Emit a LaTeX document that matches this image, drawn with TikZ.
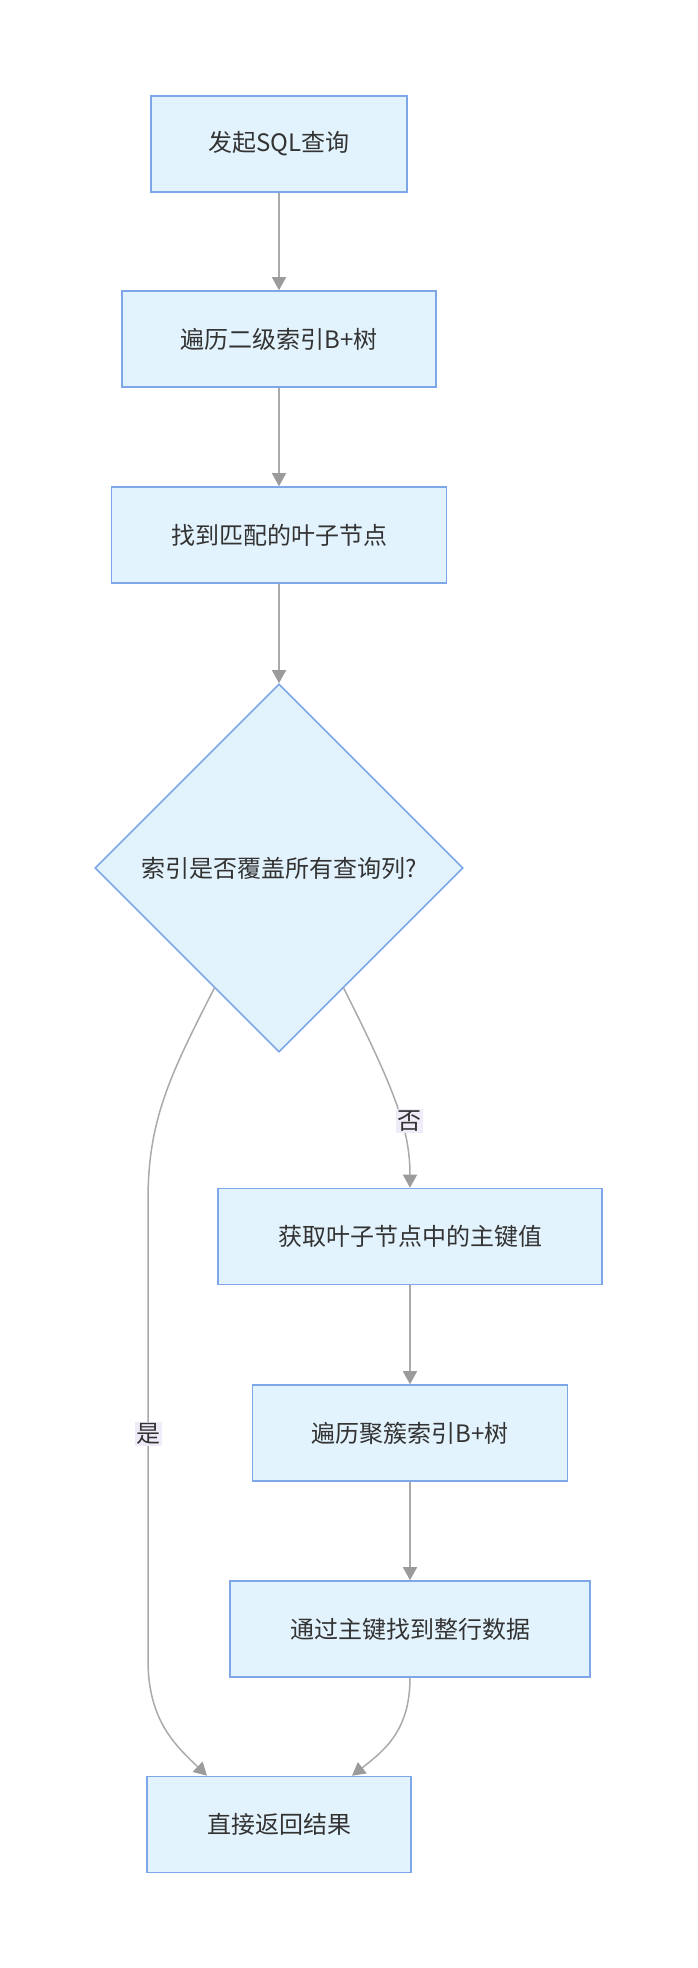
\documentclass[tikz,border=0pt]{standalone}
\usepackage{fontspec}
\setmainfont{Noto Sans CJK SC}
\usepackage{xcolor}
\usepackage{tikz}
\usetikzlibrary{calc,arrows.meta,positioning,shapes.geometric}
\definecolor{boxFill}{RGB}{227,243,253}
\definecolor{boxLine}{RGB}{125,167,232}
\definecolor{edgeGray}{RGB}{170,170,170}
\definecolor{tipGray}{RGB}{155,155,155}
\definecolor{txtDark}{RGB}{51,51,51}
\definecolor{lblFill}{RGB}{240,235,248}

\begin{document}
\begin{tikzpicture}[x=1pt,y=-1pt,
    stepbox/.style={draw=boxLine, fill=boxFill, line width=1.6pt, text=txtDark,
        minimum height=96pt, inner sep=0pt, font=\fontsize{24}{29}\selectfont},
    decide/.style={diamond, aspect=1, draw=boxLine, fill=boxFill, line width=1.6pt,
        text=txtDark, minimum width=368pt, minimum height=368pt, inner sep=0pt,
        font=\fontsize{24}{29}\selectfont},
    flow/.style={draw=edgeGray, line width=1.5pt,
        -{Triangle[width=14pt,length=13pt,color=tipGray,fill=tipGray]}},
    answer/.style={fill=lblFill, text=txtDark, inner sep=1.5pt,
        font=\fontsize{24}{29}\selectfont}]

    \useasboundingbox (0,0) rectangle (698,1968);

    % steps
    \node[stepbox, minimum width=256pt] (sql)  at (279,144)    {发起SQL查询};
    \node[stepbox, minimum width=314pt] (sec)  at (279,339)    {遍历二级索引B+树};
    \node[stepbox, minimum width=335pt] (leaf) at (279,535)    {找到匹配的叶子节点};
    \node[decide]                       (cover) at (279,868)   {索引是否覆盖所有查询列?};
    \node[stepbox, minimum width=384pt] (pk)   at (410,1236.5) {获取叶子节点中的主键值};
    \node[stepbox, minimum width=315pt] (clu)  at (410,1433)   {遍历聚簇索引B+树};
    \node[stepbox, minimum width=360pt] (row)  at (410,1629)   {通过主键找到整行数据};
    \node[stepbox, minimum width=264pt] (ret)  at (279,1824.5) {直接返回结果};

    % free ends on the decision and the last box
    \coordinate (coverL) at ($(cover.south)!0.35!(cover.west)$);
    \coordinate (coverR) at ($(cover.south)!0.35!(cover.east)$);
    \coordinate (retL) at ($(ret.north)+(-72,0)$);
    \coordinate (retR) at ($(ret.north)+(73,0)$);

    % straight connectors
    \draw[flow] (sql) -- (sec);
    \draw[flow] (sec) -- (leaf);
    \draw[flow] (leaf) -- (cover);
    \draw[flow] (pk) -- (clu);
    \draw[flow] (clu) -- (row);

    % branches
    \draw[flow] (coverR) .. controls (395,1090) and (410,1130) .. (pk.north);
    \draw[flow] (coverL) .. controls (170,1075) and (148,1120) .. (148,1200)
        -- (148,1660) .. controls (148,1720) and (175,1745) .. (retL);
    \draw[flow] (row.south) .. controls (410,1730) and (385,1750) .. (retR);

    % branch labels
    \node[answer] (no)  at (409,1121) {否};
    \node[answer] (yes) at (148,1434) {是};

\end{tikzpicture}
\end{document}
